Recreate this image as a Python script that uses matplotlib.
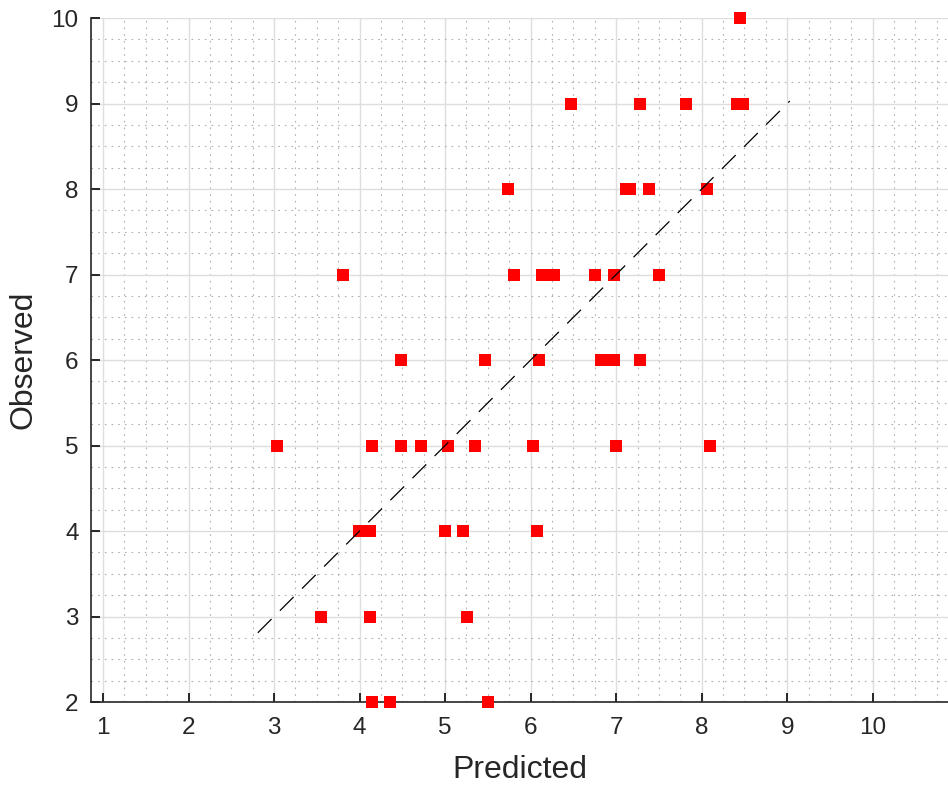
import matplotlib as mpl
import matplotlib.pyplot as plt
from matplotlib.ticker import MultipleLocator

mpl.rcParams.update({
    "font.family": ["Liberation Sans", "DejaVu Sans"],
    "lines.scale_dashes": False,
})

predicted = [
    8.45,
    6.47, 7.28, 7.82, 8.41, 8.48,
    5.74, 7.12, 7.16, 7.38, 8.06,
    3.81, 5.80, 6.13, 6.27, 6.75, 6.98, 7.50,
    4.49, 5.47, 6.10, 6.82, 6.90, 6.98, 7.28,
    3.04, 4.14, 4.49, 4.72, 5.03, 5.35, 6.03, 7.00, 8.10,
    3.99, 4.12, 5.00, 5.21, 6.08,
    3.55, 4.12, 5.26,
    4.14, 4.35, 5.50,
]
observed = [
    10,
    9, 9, 9, 9, 9,
    8, 8, 8, 8, 8,
    7, 7, 7, 7, 7, 7, 7,
    6, 6, 6, 6, 6, 6, 6,
    5, 5, 5, 5, 5, 5, 5, 5, 5,
    4, 4, 4, 4, 4,
    3, 3, 3,
    2, 2, 2,
]
# 1:1 reference line span
ref_line = [2.81, 9.03]

x_ticks = list(range(1, 11))
y_ticks = list(range(2, 11))

fig = plt.figure(figsize=(9.48, 7.87), dpi=100, facecolor="white")
ax = fig.add_axes([0.096, 0.108, 0.904, 0.869])

ax.plot(predicted, observed, linestyle="none", marker="s", markersize=9.3,
        markerfacecolor="#ff0000", markeredgewidth=0, clip_on=False, zorder=3)
ax.plot(ref_line, ref_line, color="black", linewidth=0.9,
        dashes=(14, 8.5), zorder=4)

ax.set_xlim(0.86, 10.88)
ax.set_ylim(2, 10)
ax.set_xticks(x_ticks)
ax.set_yticks(y_ticks)
ax.xaxis.set_minor_locator(MultipleLocator(0.25))
ax.yaxis.set_minor_locator(MultipleLocator(0.25))

ax.grid(which="major", color="#dedede", linewidth=1.0, zorder=0)
ax.grid(which="minor", color="#b0b0b0", linewidth=0.8,
        dashes=(1.2, 3.6), zorder=0)
ax.set_axisbelow(True)

for side in ("top", "right"):
    ax.spines[side].set_visible(False)
for side in ("left", "bottom"):
    ax.spines[side].set_color("#262626")
    ax.spines[side].set_linewidth(1.2)

ax.tick_params(which="major", direction="in", length=6.5, width=1.4,
               color="#262626", labelcolor="#262626", labelsize=17.5)
ax.tick_params(axis="x", which="major", pad=11)
ax.tick_params(axis="y", which="major", pad=9)
ax.tick_params(which="minor", length=0)

ax.set_xlabel("Predicted", fontsize=23, color="#262626", labelpad=11)
ax.set_ylabel("Observed", fontsize=23, color="#262626", labelpad=9)

fig.savefig("out.png", dpi=100)
